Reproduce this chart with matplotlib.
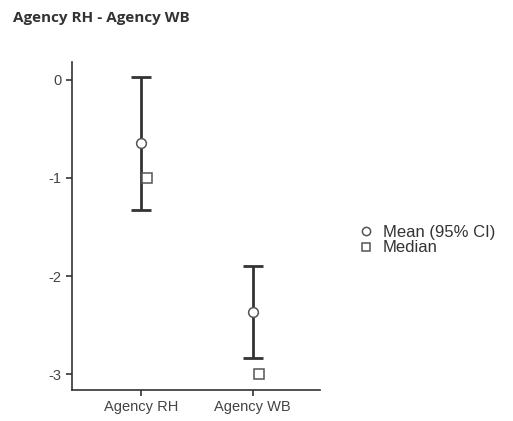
import matplotlib
matplotlib.use('Agg')
import matplotlib.pyplot as plt
import numpy as np

categories = ['Agency RH', 'Agency WB']
means = [-0.646, -2.367]
ci_lower = [-1.327, -2.83]
ci_upper = [0.027, -1.898]
medians = [-1.0, -3.0]
yticks = [0, -1, -2, -3]

plt.rcParams['font.family'] = ['Liberation Sans', 'DejaVu Sans']
plt.rcParams['axes.unicode_minus'] = False
dark = '#333333'

fig = plt.figure(figsize=(5.13, 4.21), dpi=100)
ax = fig.add_axes([0.1404, 0.0736, 0.4834, 0.7791])

x = np.arange(1, len(categories) + 1)
means = np.array(means)
yerr = [means - np.array(ci_lower), np.array(ci_upper) - means]
ax.errorbar(x, means, yerr=yerr, fmt='none', ecolor=dark, elinewidth=2,
            capsize=7, capthick=2, zorder=2)
ax.plot(x, means, 'o', markersize=7, markerfacecolor='white',
        markeredgecolor='#555555', markeredgewidth=1.1, zorder=3,
        label='Mean (95% CI)', linestyle='none')
ax.plot(x + 0.055, medians, 's', markersize=6.5, markerfacecolor='white',
        markeredgecolor='#555555', markeredgewidth=1.1, zorder=3,
        label='Median', linestyle='none')

ax.set_xlim(0.387, 2.60)
ax.set_ylim(-3.16, 0.18)
ax.set_xticks(x)
ax.set_xticklabels(categories)
ax.set_yticks(yticks)
for s in ['top', 'right']:
    ax.spines[s].set_visible(False)
for s in ['left', 'bottom']:
    ax.spines[s].set_color(dark)
    ax.spines[s].set_linewidth(1.2)
ax.tick_params(colors=dark, labelcolor='#444444', labelsize=10.5,
               length=4, width=1.2)

leg = fig.legend(loc='center left', bbox_to_anchor=(0.685, 0.43),
                 frameon=False, fontsize=12, labelspacing=0.05,
                 handlelength=0.8, handletextpad=0.6, borderpad=0,
                 markerscale=0.85)
for t in leg.get_texts():
    t.set_color('#333333')

fig.text(0.025, 0.957, 'Agency RH - Agency WB', fontsize=11,
         fontweight='bold', family=['Open Sans', 'DejaVu Sans'],
         color='#333333', va='center')

plt.savefig('out.png', dpi=100)
